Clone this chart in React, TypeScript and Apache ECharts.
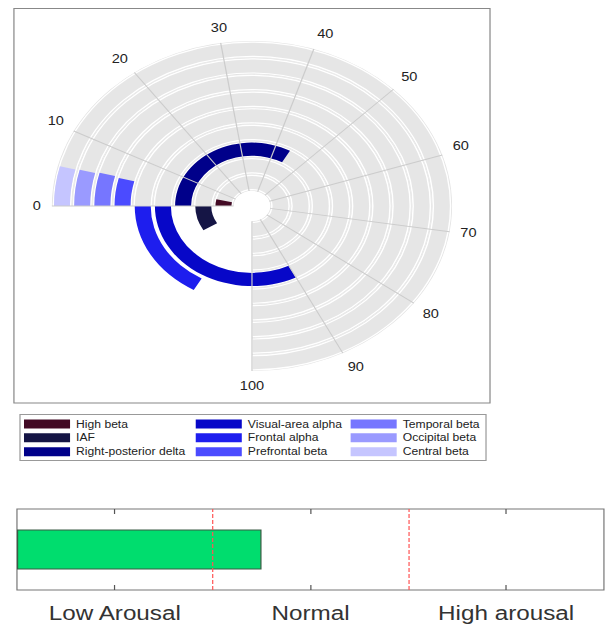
import React, { useEffect, useRef } from 'react';
import * as echarts from 'echarts';

// ---- data ----
const ringNames = [
  'High beta',
  'IAF',
  'Right-posterior delta',
  'Visual-area alpha',
  'Frontal alpha',
  'Prefrontal beta',
  'Temporal beta',
  'Occipital beta',
  'Central beta',
];
const ringValues = [4.8, -11.5, 44.3, -43.3, -22.3, 5.3, 5.5, 5.3, 5.2];
const ringColors = [
  '#420a24',
  '#151545',
  '#00008a',
  '#0707c8',
  '#1e1eee',
  '#4b4bff',
  '#7676ff',
  '#9a9aff',
  '#c5c5ff',
];
const trackMax = 100;
const fullTurn = 400 / 3; // 100 units = 270 degrees
const angleStep = 10;

const arousalLabels = ['Low Arousal', 'Normal', 'High arousal'];
const arousalValue = [2.5];
const arousalThresholds = [2, 4];
const arousalMax = 6;

// ---- layout (logical coords; the div is stretched horizontally) ----
const SX = 1.212;
const W = 614 / SX;
const H = 632;
const CX = 207.9;
const CY = 206;
const R0 = 15.2;
const R1 = 165.1;
const BAND = (R1 - R0) / ringNames.length;

const FONT = 'Liberation Sans, Arial, Helvetica, sans-serif';

export default function App() {
  const ref = useRef<HTMLDivElement>(null);

  useEffect(() => {
    if (!ref.current) return;
    const chart = echarts.init(ref.current, undefined, { renderer: 'svg' });

    const tickCount = Math.ceil(fullTurn / angleStep) + 1;
    const spokeColors: string[] = [];
    for (let i = 0; i <= tickCount; i++) {
      spokeColors.push(i * angleStep <= trackMax ? '#cccccc' : 'rgba(0,0,0,0)');
    }

    const offsetData = ringValues.map((v) => (v < 0 ? fullTurn + v : 0));

    const polarIdx = [0, 1, 2];

    const ringSeries = ringNames.map((name, i) => ({
      name,
      type: 'bar',
      coordinateSystem: 'polar',
      polarIndex: 2,
      stack: 'ring',
      barWidth: 13.2,
      data: ringNames.map((_, j) => (j === i ? Math.abs(ringValues[i]) : null)),
      itemStyle: { color: ringColors[i] },
      z: 3,
    }));

    const legendLefts = [19.8, 161.5, 289.3];

    const option: any = {
      animation: false,
      textStyle: { fontFamily: FONT },
      polar: polarIdx.map(() => ({ center: [CX, CY], radius: [R0, R1] })),
      angleAxis: polarIdx.map((i) => ({
        polarIndex: i,
        type: 'value',
        min: 0,
        max: fullTurn,
        interval: angleStep,
        startAngle: 180,
        clockwise: true,
        show: i === 2,
        z: i === 2 ? 10 : 0,
        axisLine: { show: false },
        axisTick: { show: false },
        splitLine: { show: true, lineStyle: { color: spokeColors, width: 1 } },
        axisLabel: {
          show: true,
          margin: 9,
          fontSize: 12,
          color: '#222',
          fontFamily: FONT,
          formatter: (v: number) => (v <= trackMax + 1e-6 ? String(Math.round(v)) : ''),
        },
      })),
      radiusAxis: polarIdx.map((i) => ({
        polarIndex: i,
        type: 'category',
        data: ringNames,
        show: false,
      })),
      legend: [0, 1, 2].map((k) => ({
        data: ringNames.slice(k * 3, k * 3 + 3),
        orient: 'vertical',
        left: legendLefts[k],
        top: 419,
        padding: 0,
        itemWidth: 38,
        itemHeight: 9,
        itemGap: 3.85,
        icon: 'rect',
        selectedMode: false,
        textStyle: { fontSize: 10, lineHeight: 10, color: '#222', fontFamily: FONT },
      })),
      grid: {
        show: true,
        left: 14,
        top: 509,
        width: 484.3,
        height: 81,
        borderColor: '#777',
        borderWidth: 1,
        backgroundColor: 'rgba(0,0,0,0)',
      },
      xAxis: [
        { type: 'value', min: 0, max: arousalMax, show: false, gridIndex: 0 },
        {
          type: 'category',
          gridIndex: 0,
          position: 'bottom',
          data: arousalLabels,
          boundaryGap: true,
          axisLine: { show: false },
          axisTick: { show: true, inside: true, alignWithLabel: true, length: 5, lineStyle: { color: '#555' } },
          axisLabel: { fontSize: 20, color: '#333', margin: 13, fontFamily: FONT },
          splitLine: { show: false },
        },
        {
          type: 'category',
          gridIndex: 0,
          position: 'top',
          data: arousalLabels,
          boundaryGap: true,
          axisLine: { show: false },
          axisTick: { show: true, inside: true, alignWithLabel: true, length: 5, lineStyle: { color: '#555' } },
          axisLabel: { show: false },
          splitLine: { show: false },
        },
      ],
      yAxis: { type: 'category', data: ['arousal'], show: false, gridIndex: 0 },
      graphic: [
        {
          type: 'rect',
          shape: { x: 11.5, y: 8.5, width: 392.8, height: 394.5 },
          style: { fill: 'none', stroke: '#888', lineWidth: 1 },
          silent: true,
        },
        {
          type: 'rect',
          shape: { x: 16.5, y: 414.5, width: 384.5, height: 46 },
          style: { fill: 'none', stroke: '#999', lineWidth: 1 },
          silent: true,
        },
      ],
      series: [
        {
          name: '_trackBase',
          type: 'bar',
          coordinateSystem: 'polar',
          polarIndex: 0,
          barWidth: BAND,
          data: ringNames.map(() => trackMax),
          itemStyle: { color: '#e4e4e4' },
          silent: true,
          z: 1,
        },
        {
          name: '_track',
          type: 'bar',
          coordinateSystem: 'polar',
          polarIndex: 1,
          barWidth: 14.2,
          data: ringNames.map(() => trackMax),
          itemStyle: { color: '#e6e6e6', borderColor: '#ffffff', borderWidth: 1.2 },
          silent: true,
          z: 2,
        },
        {
          name: '_offset',
          type: 'bar',
          coordinateSystem: 'polar',
          polarIndex: 2,
          stack: 'ring',
          barWidth: 13.2,
          data: offsetData,
          itemStyle: { color: 'rgba(0,0,0,0)' },
          silent: true,
          z: 3,
        },
        ...ringSeries,
        {
          name: 'Arousal',
          type: 'bar',
          xAxisIndex: 0,
          yAxisIndex: 0,
          barWidth: 40,
          data: arousalValue,
          itemStyle: { color: '#00dd6e', borderColor: '#3a5a44', borderWidth: 1 },
          markLine: {
            silent: true,
            symbol: 'none',
            label: { show: false },
            lineStyle: { color: '#ff5555', type: 'dashed', width: 1 },
            data: arousalThresholds.map((t) => ({ xAxis: t })),
          },
          z: 2,
        },
      ],
    };

    chart.setOption(option);
    return () => chart.dispose();
  }, []);

  return (
    <div
      ref={ref}
      style={{
        position: 'fixed',
        left: 0,
        top: 0,
        width: W,
        height: H,
        transform: `scaleX(${SX})`,
        transformOrigin: '0 0',
        background: '#fff',
      }}
    />
  );
}
